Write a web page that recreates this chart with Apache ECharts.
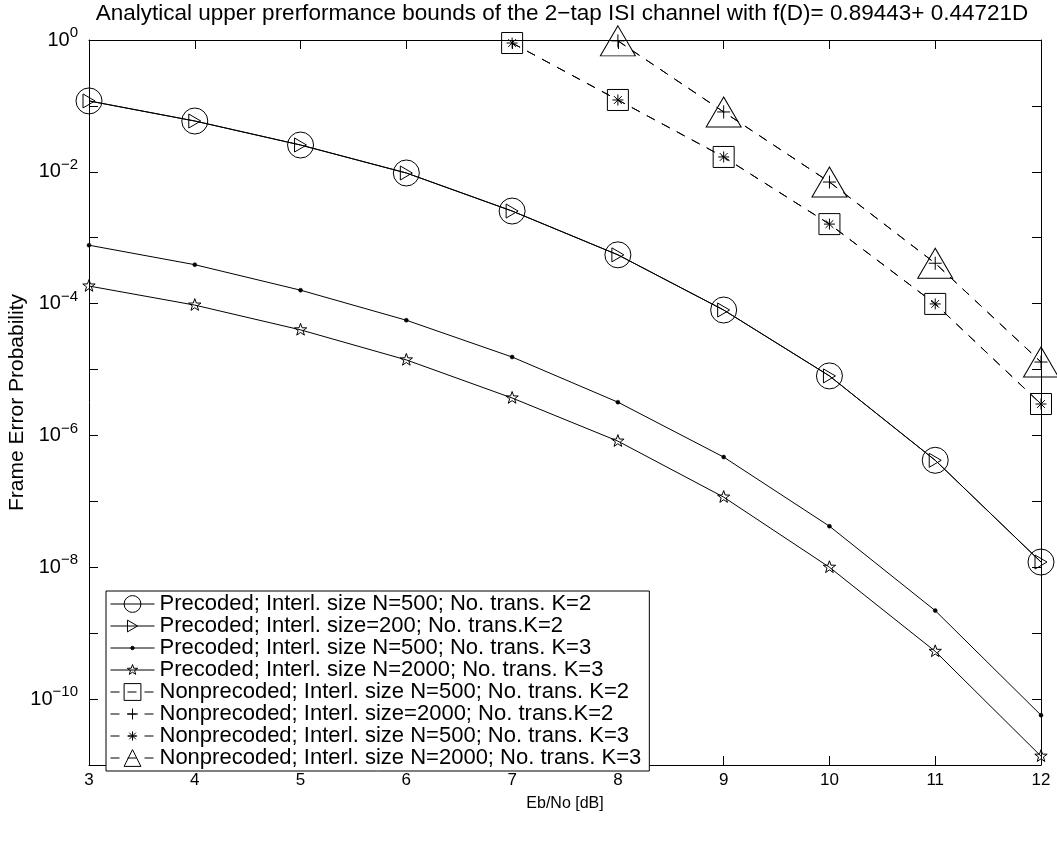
<!DOCTYPE html>
<html><head><meta charset="utf-8">
<script src="https://cdn.jsdelivr.net/npm/echarts@6/dist/echarts.min.js"></script>
<style>html,body{margin:0;padding:0;background:#fff}#c{width:1057px;height:848px}</style>
</head><body><div id="c"></div>
<script>
const titleText = 'Analytical upper prerformance bounds of the 2\u2212tap ISI channel with f(D)= 0.89443+ 0.44721D';
const xLabel = 'Eb/No [dB]';
const yLabel = 'Frame Error Probability';
const seriesNames = [
  'Precoded; Interl. size N=500; No. trans. K=2',
  'Precoded; Interl. size=200; No. trans.K=2',
  'Precoded; Interl. size N=500; No. trans. K=3',
  'Precoded; Interl. size N=2000; No. trans. K=3',
  'Nonprecoded; Interl. size N=500; No. trans. K=2',
  'Nonprecoded; Interl. size=2000; No. trans.K=2',
  'Nonprecoded; Interl. size N=500; No. trans. K=3',
  'Nonprecoded; Interl. size N=2000; No. trans. K=3'
];
const yTickValues  = [1e0, 1e-1, 1e-2, 1e-3, 1e-4, 1e-5, 1e-6, 1e-7, 1e-8, 1e-9, 1e-10, 1e-11];
const yLabelValues = [1e0, 1e-2, 1e-4, 1e-6, 1e-8, 1e-10];
const xPrecoded = [3,4,5,6,7,8,9,10,11,12];
const precN500K2  = [0.119, 0.059, 0.0255, 0.0096, 0.00254, 5.5e-4, 8.0e-5, 8.0e-6, 4.2e-7, 1.2e-8];
const prec200K2   = [0.119, 0.059, 0.0255, 0.0096, 0.00254, 5.5e-4, 8.0e-5, 8.0e-6, 4.2e-7, 1.2e-8];
const precN500K3  = [7.7e-4, 3.9e-4, 1.6e-4, 5.6e-5, 1.55e-5, 3.2e-6, 4.7e-7, 4.2e-8, 2.2e-9, 5.7e-11];
const precN2000K3 = [1.85e-4, 9.5e-5, 4.0e-5, 1.4e-5, 3.7e-6, 8.2e-7, 1.16e-7, 1.0e-8, 5.3e-10, 1.36e-11];
const xNonN500 = [7,8,9,10,11,12];
const nonN500K2 = [0.9, 0.123, 0.0168, 0.00161, 9.9e-5, 3.0e-6];
const nonN500K3 = [0.9, 0.123, 0.0168, 0.00161, 9.9e-5, 3.0e-6];
const xNonN2000 = [8,9,10,11,12];
const non2000K2 = [0.97, 0.081, 0.0070, 4.1e-4, 1.3e-5];
const nonN2000K3 = [0.97, 0.081, 0.0070, 4.1e-4, 1.3e-5];

const FONT = '"Liberation Sans", Arial, Helvetica, sans-serif';
const pair = (xs, ys) => xs.map((x, i) => [x, ys[i]]);
// padded symbol paths (box -10..10) so legend icons stay proportionate
const PAD = 'M-10,-10M10,10';
const triRightPath = 'path://' + PAD + 'M-6,-7L6,0L-6,7Z';
const dotPath = 'path://' + PAD + 'M-2,0A2,2,0,1,1,2,0A2,2,0,1,1,-2,0Z';
const starPath = 'path://' + PAD + 'M0,-6.5L1.53,-2.1L6.18,-2.01L2.47,0.8L3.82,5.26L0,2.6L-3.82,5.26L-2.47,0.8L-6.18,-2.01L-1.53,-2.1Z';
const plusPath = 'path://' + PAD + 'M-6.5,0L6.5,0M0,-6.5L0,6.5';
const astPath = 'path://' + PAD + 'M0,-5.5L0,5.5M-5.5,0L5.5,0M-3.9,-3.9L3.9,3.9M-3.9,3.9L3.9,-3.9';

function mk(name, data, symbol, size, dashed, extra) {
  return Object.assign({
    name, type: 'line', data, symbol, symbolSize: size,
    showSymbol: true, showAllSymbol: true, animation: false,
    color: '#000',
    lineStyle: { color: '#000', width: 1, type: dashed ? [9, 8] : 'solid' },
    itemStyle: { color: 'rgba(255,255,255,0)', borderColor: '#000', borderWidth: 1 },
    emphasis: { disabled: true }
  }, extra || {});
}

const series = [
  mk(seriesNames[0], pair(xPrecoded, precN500K2), 'circle', 26, false),
  mk(seriesNames[1], pair(xPrecoded, prec200K2), triRightPath, 20, false),
  mk(seriesNames[2], pair(xPrecoded, precN500K3), dotPath, 20, false, { itemStyle: { color: '#000', borderColor: '#000', borderWidth: 0.5 } }),
  mk(seriesNames[3], pair(xPrecoded, precN2000K3), starPath, 20, false),
  mk(seriesNames[4], pair(xNonN500, nonN500K2), 'rect', 21, true),
  mk(seriesNames[5], pair(xNonN2000, non2000K2), plusPath, 20, true),
  mk(seriesNames[6], pair(xNonN500, nonN500K3), astPath, 20, true),
  mk(seriesNames[7], pair(xNonN2000, nonN2000K3), 'triangle', [35, 30], true)
];

const yFmt = v => {
  const e = Math.round(Math.log10(v));
  return '{b|10}{e|' + (e < 0 ? '\u2212' : '') + Math.abs(e) + '}';
};

const axisLineCommon = { show: true, onZero: false, lineStyle: { color: '#000', width: 1 } };
const tickStyle = { color: '#000', width: 1 };

const chart = echarts.init(document.getElementById('c'), null, { renderer: 'canvas' });
chart.setOption({
  backgroundColor: '#fff',
  animation: false,
  title: {
    text: titleText, left: 562, top: 2, textAlign: 'center', padding: 0,
    textStyle: { fontFamily: FONT, fontSize: 22.5, fontWeight: 'normal', color: '#000' }
  },
  grid: { left: 89, right: 16, top: 40, bottom: 83, containLabel: false, outerBoundsMode: 'none' },
  legend: {
    data: seriesNames, orient: 'vertical', left: 106, top: 591,
    itemWidth: 44, itemHeight: 21, itemGap: 0,
    padding: [2, 8, 2, 4],
    borderColor: '#000', borderWidth: 1, backgroundColor: '#fff',
    lineStyle: { width: 1 },
    itemStyle: { borderWidth: 1 },
    textStyle: { fontFamily: FONT, fontSize: 22, lineHeight: 21, color: '#000' },
    selectedMode: false
  },
  xAxis: [
    {
      type: 'value', min: 3, max: 12, interval: 1, position: 'bottom',
      name: xLabel, nameLocation: 'middle', nameGap: 31,
      nameTextStyle: { fontFamily: FONT, fontSize: 16, color: '#000' },
      axisLine: axisLineCommon,
      axisTick: { show: true, inside: true, length: 9, lineStyle: tickStyle },
      axisLabel: { fontFamily: FONT, fontSize: 17, color: '#000', margin: 7 },
      splitLine: { show: false }
    },
    {
      type: 'value', min: 3, max: 12, interval: 1, position: 'top',
      axisLine: axisLineCommon,
      axisTick: { show: true, inside: true, length: 9, lineStyle: tickStyle },
      axisLabel: { show: false },
      splitLine: { show: false }
    }
  ],
  yAxis: [
    {
      type: 'log', logBase: 10, min: 1e-11, max: 1, position: 'left',
      name: yLabel, nameLocation: 'middle', nameGap: 61, nameMoveOverlap: false,
      nameTextStyle: { fontFamily: FONT, fontSize: 21, color: '#000' },
      axisLine: axisLineCommon,
      axisTick: { show: true, inside: true, length: 9, lineStyle: tickStyle, customValues: yTickValues },
      axisLabel: {
        customValues: yLabelValues,
        formatter: yFmt, margin: 11,
        rich: {
          b: { fontFamily: FONT, fontSize: 20, color: '#000' },
          e: { fontFamily: FONT, fontSize: 15, color: '#000', padding: [0, 0, 14, 0] }
        }
      },
      splitLine: { show: false }
    },
    {
      type: 'log', logBase: 10, min: 1e-11, max: 1, position: 'right',
      axisLine: axisLineCommon,
      axisTick: { show: true, inside: true, length: 9, lineStyle: tickStyle, customValues: yTickValues },
      axisLabel: { show: false },
      splitLine: { show: false }
    }
  ],
  series
});
</script></body></html>
